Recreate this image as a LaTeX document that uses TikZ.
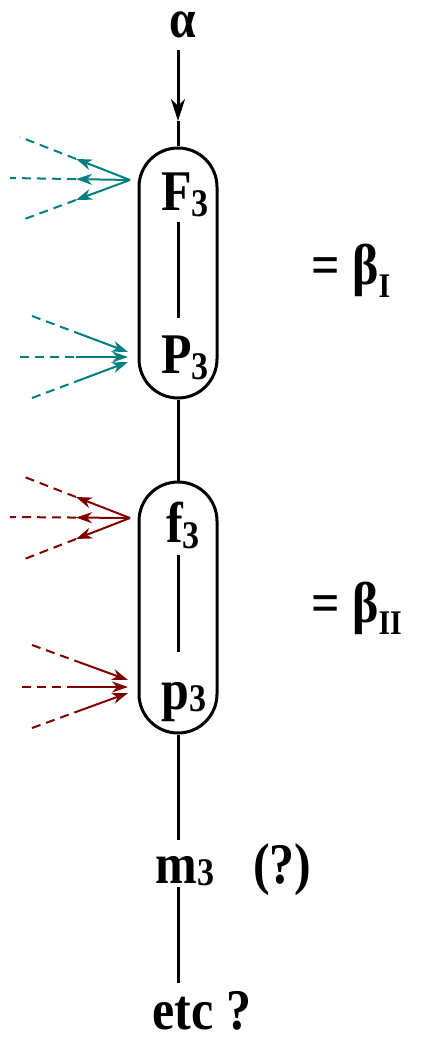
\documentclass[tikz,border=0pt]{standalone}
\usepackage{graphicx}
\usepackage{fontspec}
\setmainfont{Liberation Serif}
\usetikzlibrary{arrows.meta,calc}
\definecolor{tealc}{RGB}{0,128,128}
\definecolor{redc}{RGB}{128,0,0}
\newcommand{\bigT}[1]{\scalebox{1}[1.15]{\fontsize{50}{56}\selectfont\bfseries #1}}
\newcommand{\lowsub}[3]{\raisebox{#1}{\fontsize{#2}{#2}\selectfont\bfseries #3}}
\begin{document}
\begin{tikzpicture}[x=1pt,y=-1pt,
  lbl/.style={inner sep=0pt, anchor=base},
  lblw/.style={inner sep=0pt, anchor=base west},
  mainline/.style={line width=3pt},
  capsule/.style={draw, line width=3pt, rounded corners=39pt, minimum width=78pt, minimum height=#1, inner sep=0pt},
  colline/.style={line width=2pt},
  coldash/.style={line width=2pt, dash pattern=on 9pt off 6pt},
  ctip/.style={-{Stealth[length=16pt,width=11pt,inset=5pt]}}]
\useasboundingbox (0,0) rectangle (420,1043);

% capsules
\node[capsule=250pt] (cap1) at (178,273) {};
\node[capsule=251pt] (cap2) at (178,607.5) {};

% labels
\node[lbl] (alpha) at (183,38) {\scalebox{0.95}{\bigT{α}}};
\node[lbl] (F3) at (185,210) {\bigT{F\lowsub{-6pt}{34}{3}}};
\node[lbl] (P3) at (185,373) {\bigT{P\lowsub{-6pt}{34}{3}}};
\node[lbl] (f3) at (183,542) {\bigT{f\lowsub{-6pt}{34}{3}}};
\node[lbl] (p3) at (184,709) {\bigT{p\lowsub{-2pt}{34}{3}}};
\node[lbl] (m3) at (185,883) {\bigT{m\lowsub{-2pt}{34}{3}}};
\node[lblw] (q) at (253,883) {\bigT{(?)}};
\node[lbl] (etc) at (202,1029) {\bigT{etc ?}};
\node[lblw] (b1) at (311,284) {\bigT{= β\lowsub{-12pt}{30}{I}}};
\node[lblw] (b2) at (311,622) {\bigT{= β\lowsub{-11pt}{30}{II}}};

% main line coordinates
\coordinate (a0) at (178,50);
\coordinate (a1) at (178,121);
\coordinate (F3b) at (178,222);
\coordinate (P3t) at (178,318);
\coordinate (f3b) at (178,555);
\coordinate (p3t) at (178,652);
\coordinate (m3t) at (178,840);
\coordinate (m3b) at (178,887);
\coordinate (etct) at (178,983);

\draw[mainline,-{Stealth[length=22pt,width=14pt,inset=7pt]}] (a0) -- (a1);
\draw[mainline] (a1) -- (cap1.north);
\draw[mainline] (F3b) -- (P3t);
\draw[mainline] (cap1.south) -- (cap2.north);
\draw[mainline] (f3b) -- (p3t);
\draw[mainline] (cap2.south) -- (m3t);
\draw[mainline] (m3b) -- (etct);

% teal outgoing (F3)
\coordinate (o1) at (130,180);
\coordinate (e1a) at (20,137);
\coordinate (e1b) at (10,178);
\coordinate (e1c) at (22,220);
\foreach \e/\t in {e1a/0.49, e1b/0.45, e1c/0.5} {
  \draw[tealc, colline, ctip] (o1) -- ($(o1)!\t!(\e)$);
  \draw[tealc, coldash] ($(o1)!\t!(\e)$) -- (\e);
}
% teal incoming (P3)
\coordinate (t1a) at (128,352);
\coordinate (t1b) at (128,357);
\coordinate (t1c) at (128,362);
\coordinate (s1a) at (32,316);
\coordinate (s1b) at (20,357);
\coordinate (s1c) at (32,398);
\foreach \s/\tt/\t in {s1a/t1a/0.48, s1b/t1b/0.52, s1c/t1c/0.48} {
  \draw[tealc, coldash] (\s) -- ($(\s)!\t!(\tt)$);
  \draw[tealc, colline, ctip] ($(\s)!\t!(\tt)$) -- (\tt);
}

% red outgoing (f3)
\coordinate (o2) at (130,518);
\coordinate (e2a) at (22,476);
\coordinate (e2b) at (10,517);
\coordinate (e2c) at (22,560);
\foreach \e/\t in {e2a/0.5, e2b/0.45, e2c/0.5} {
  \draw[redc, colline, ctip] (o2) -- ($(o2)!\t!(\e)$);
  \draw[redc, coldash] ($(o2)!\t!(\e)$) -- (\e);
}
% red incoming (p3)
\coordinate (t2a) at (128,680);
\coordinate (t2b) at (128,687);
\coordinate (t2c) at (128,693);
\coordinate (s2a) at (32,645);
\coordinate (s2b) at (22,687);
\coordinate (s2c) at (32,728);
\foreach \s/\tt/\t in {s2a/t2a/0.48, s2b/t2b/0.5, s2c/t2c/0.48} {
  \draw[redc, coldash] (\s) -- ($(\s)!\t!(\tt)$);
  \draw[redc, colline, ctip] ($(\s)!\t!(\tt)$) -- (\tt);
}
\end{tikzpicture}
\end{document}
